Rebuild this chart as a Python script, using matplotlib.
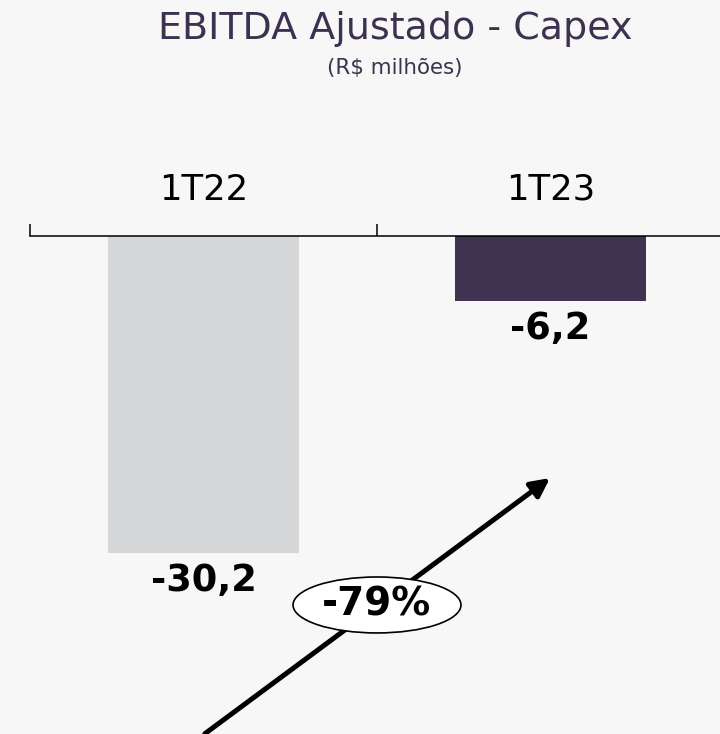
import matplotlib.pyplot as plt
from matplotlib.patches import Ellipse

categories = ['1T22', '1T23']
values = [-30.2, -6.2]
bar_colors = ['#d5d6d8', '#3e3452']
change_label = '-79%'

title = 'EBITDA Ajustado - Capex'
subtitle = '(R$ milhões)'
text_color = '#3d3150'
bg = '#f7f7f7'

fig = plt.figure(figsize=(7.2, 7.34), dpi=100, facecolor=bg)
ax = fig.add_axes([30 / 720, 0, 694 / 720, 498 / 734])
ax.set_facecolor(bg)

x = range(len(categories))
ax.bar(x, values, width=0.553, color=bar_colors)

# value labels under each bar
for i, v in zip(x, values):
    ax.annotate(f'{v:.1f}'.replace('.', ','), xy=(i, v), xytext=(0, -20),
                textcoords='offset points', ha='center', va='center',
                fontsize=26.5, fontweight='bold', color='black')

ax.set_xlim(-0.5, 1.5)
ax.set_ylim(-498 / 10.5, 0)

# category axis on top, ticks at the boundaries
ax.xaxis.tick_top()
ax.set_xticks([-0.5, 0.5, 1.5])
ax.set_xticklabels([])
ax.set_xticks(list(x), minor=True)
ax.set_xticklabels(categories, minor=True)
ax.tick_params(axis='x', which='major', direction='out', length=9, width=1.1, color='black')
ax.tick_params(axis='x', which='minor', length=0, pad=21, labelsize=25.5, labelcolor='black')
ax.set_yticks([])
for s in ['left', 'right', 'bottom']:
    ax.spines[s].set_visible(False)
ax.spines['top'].set_linewidth(1.1)

# trend arrow with the change bubble
ax.annotate('', xy=(0.9986, -23.05), xytext=(0.004, -47.4),
            arrowprops=dict(arrowstyle='-|>', lw=3.6, color='black', mutation_scale=28,
                            shrinkA=0, shrinkB=0),
            annotation_clip=False)
ax.add_patch(Ellipse((0.5, -35.14), 0.484, 5.33, facecolor='white', edgecolor='black',
                     lw=1.2, zorder=5))
ax.text(0.5, -35.14, change_label, ha='center', va='center', fontsize=28,
        fontweight='bold', color='black', zorder=6)

fig.text(395 / 720, 1 - 39 / 734, title, ha='center', va='baseline', fontsize=27.4, color=text_color)
fig.text(395 / 720, 1 - 74 / 734, subtitle, ha='center', va='baseline', fontsize=15.4, color=text_color)

fig.savefig('out.png', dpi=100, facecolor=bg)
